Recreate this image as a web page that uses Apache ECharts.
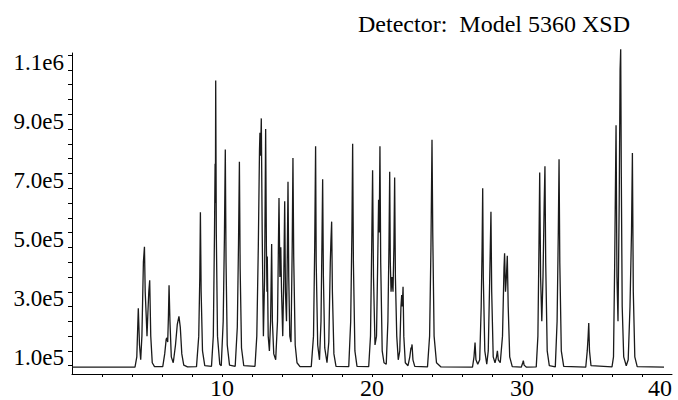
<!DOCTYPE html>
<html>
<head>
<meta charset="utf-8">
<script src="https://cdn.jsdelivr.net/npm/echarts@6/dist/echarts.min.js"></script>
<style>
html,body{margin:0;padding:0;background:#fff;}
#chart{width:678px;height:400px;}
</style>
</head>
<body>
<div id="chart"></div>
<script>
// Chart title text
const titleText = 'Detector:  Model 5360 XSD';

// Retention time (minutes)
const rt = [
  0, 4.20, 4.32, 4.42, 4.50, 4.58, 4.66, 4.76, 4.83, 4.88, 4.95, 5.00, 5.06, 5.12, 5.18, 5.25, 5.35, 5.50,
  6.05, 6.18, 6.28, 6.33, 6.38, 6.43, 6.47, 6.53, 6.62, 6.75, 6.90, 7.02, 7.13, 7.22, 7.32, 7.45, 7.70,
  8.30, 8.45, 8.52, 8.56, 8.61, 8.70, 8.85,
  9.30, 9.42, 9.50, 9.54, 9.56, 9.58, 9.62, 9.70, 9.85,
  9.95, 10.08, 10.16, 10.22, 10.27, 10.35, 10.50,
  10.88, 11.02, 11.10, 11.16, 11.21, 11.30, 11.45,
  12.20, 12.32, 12.42, 12.50, 12.53, 12.57, 12.62, 12.68, 12.76, 12.84, 12.91, 12.96, 13.00, 13.02, 13.08, 13.16, 13.24, 13.31, 13.36, 13.45,
  13.58, 13.70, 13.80, 13.86, 13.92, 13.97, 14.05, 14.12, 14.18, 14.23, 14.30, 14.36, 14.40, 14.45, 14.52, 14.60, 14.68, 14.73, 14.78, 14.88, 15.00, 15.20,
  15.95, 16.10, 16.18, 16.24, 16.28, 16.38, 16.50, 16.60, 16.66, 16.71, 16.76, 16.85, 17.00, 17.12, 17.22, 17.26, 17.31, 17.36, 17.46, 17.60,
  18.45, 18.58, 18.66, 18.71, 18.76, 18.86, 19.00,
  19.78, 19.90, 19.98, 20.04, 20.10, 20.20, 20.30, 20.38, 20.44, 20.48, 20.53, 20.58, 20.68, 20.80,
  20.95, 21.06, 21.13, 21.18, 21.22, 21.27, 21.33, 21.40, 21.46, 21.51, 21.56, 21.65, 21.75, 21.85, 21.93, 21.98, 22.02, 22.07, 22.12, 22.22, 22.40, 22.52, 22.60, 22.63, 22.67, 22.73, 22.85,
  23.70, 23.84, 23.93, 24.00, 24.05, 24.14, 24.30, 24.60,
  26.70, 26.80, 26.87, 26.93, 27.05,
  27.18, 27.28, 27.34, 27.38, 27.42, 27.52, 27.65, 27.75, 27.85, 27.93, 27.98, 28.08, 28.20, 28.30, 28.36, 28.42, 28.55, 28.70, 28.80, 28.84, 28.90, 28.96, 29.02, 29.08, 29.18, 29.35,
  29.95, 30.05, 30.09, 30.14, 30.30,
  30.95, 31.06, 31.13, 31.18, 31.24, 31.32, 31.40, 31.48, 31.53, 31.58, 31.68, 31.82,
  32.22, 32.34, 32.42, 32.47, 32.52, 32.62, 32.78,
  34.25, 34.35, 34.41, 34.45, 34.50, 34.60,
  36.00, 36.10, 36.18, 36.27, 36.33, 36.40, 36.48, 36.54, 36.58, 36.62, 36.68, 36.78, 36.95, 37.08, 37.20, 37.30, 37.36, 37.42, 37.52, 37.68, 39.47
];

// Detector signal read at those times
const signal = [
  45000, 45000, 80000, 244000, 120000, 70000, 150000, 400000, 452000, 300000, 215000, 150000, 230000, 300000, 339000, 150000, 60000, 47000,
  47000, 90000, 140000, 144000, 130000, 220000, 322000, 200000, 80000, 60000, 120000, 190000, 217000, 180000, 90000, 52000, 46000,
  47000, 150000, 350000, 569000, 300000, 100000, 50000,
  48000, 150000, 500000, 733000, 600000, 1014000, 500000, 150000, 55000,
  50000, 200000, 480000, 781000, 400000, 120000, 52000,
  48000, 180000, 460000, 739000, 380000, 110000, 50000,
  48000, 150000, 450000, 780000, 837000, 760000, 886000, 500000, 150000, 350000, 850000, 450000, 300000, 419000, 150000, 100000, 200000, 461000, 200000, 90000,
  70000, 200000, 617000, 350000, 450000, 300000, 150000, 350000, 606000, 300000, 200000, 450000, 672000, 350000, 150000, 130000, 450000, 752000, 420000, 120000, 60000, 47000,
  47000, 150000, 450000, 792000, 400000, 120000, 70000, 200000, 450000, 680000, 350000, 110000, 60000, 130000, 400000, 470000, 537000, 300000, 90000, 48000,
  47000, 200000, 500000, 800000, 400000, 100000, 48000,
  47000, 150000, 450000, 711000, 350000, 120000, 150000, 400000, 611000, 500000, 792000, 400000, 100000, 60000,
  55000, 200000, 450000, 706000, 400000, 300000, 350000, 300000, 450000, 686000, 350000, 150000, 70000, 100000, 250000, 289000, 250000, 317000, 150000, 60000, 50000, 80000, 111000, 105000, 122000, 70000, 48000,
  46000, 150000, 450000, 814000, 500000, 150000, 60000, 46000,
  45000, 80000, 128000, 70000, 55000,
  70000, 250000, 450000, 650000, 350000, 100000, 55000, 100000, 350000, 570000, 300000, 80000, 60000, 80000, 100000, 70000, 60000, 150000, 380000, 430000, 300000, 350000, 422000, 250000, 80000, 47000,
  45000, 60000, 67000, 52000, 45000,
  46000, 150000, 450000, 703000, 350000, 200000, 350000, 600000, 724000, 400000, 100000, 50000,
  46000, 200000, 500000, 748000, 400000, 100000, 48000,
  45000, 100000, 150000, 194000, 100000, 50000,
  46000, 80000, 400000, 863000, 350000, 200000, 600000, 1050000, 1120000, 700000, 250000, 80000, 50000, 70000, 250000, 500000, 769000, 300000, 80000, 47000, 45000
];

// Axis tick values and labels
const yLabelValues = [100000, 300000, 500000, 700000, 900000, 1100000];
const yLabelTexts = ['1.0e5', '3.0e5', '5.0e5', '7.0e5', '9.0e5', '1.1e6'];
const yTickValues = [50000, 100000, 150000, 200000, 250000, 300000, 350000, 400000, 450000, 500000, 550000, 600000, 650000, 700000, 750000, 800000, 850000, 900000, 950000, 1000000, 1050000, 1100000];
const xLabelValues = [10, 20, 30, 40];
const xLabelTexts = ['10', '20', '30', '40'];
const xTickValues = [2, 4, 6, 8, 10, 12, 14, 16, 18, 20, 22, 24, 26, 28, 30, 32, 34, 36, 38];

const points = rt.map((t, i) => [t, signal[i]]);

const chart = echarts.init(document.getElementById('chart'), null, {renderer: 'svg'});
const serif = '"Liberation Serif", "DejaVu Serif", serif';
chart.setOption({
  animation: false,
  backgroundColor: '#ffffff',
  grid: {left: 72, right: 6, top: 53, bottom: 22, containLabel: false},
  graphic: [{
    type: 'text',
    x: 494, y: 24,
    style: {text: titleText, font: '24px ' + serif, fill: '#000', align: 'center', verticalAlign: 'middle'}
  }],
  xAxis: {
    type: 'value', min: 0, max: 40,
    axisLine: {onZero: false, lineStyle: {color: '#000', width: 1}},
    axisTick: {show: true, length: 3, inside: false, customValues: xTickValues, lineStyle: {color: '#000'}},
    axisLabel: {
      customValues: xLabelValues,
      formatter: v => xLabelTexts[xLabelValues.indexOf(v)] ?? '',
      fontFamily: serif, fontSize: 24, color: '#000', margin: 2,
      alignMaxLabel: 'right'
    },
    splitLine: {show: false}
  },
  yAxis: {
    type: 'value', min: 22000, max: 1107000,
    axisLine: {show: true, onZero: false, lineStyle: {color: '#000', width: 1}},
    axisTick: {show: true, length: 4, inside: false, customValues: yTickValues, lineStyle: {color: '#000'}},
    axisLabel: {
      customValues: yLabelValues,
      formatter: v => yLabelTexts[yLabelValues.indexOf(v)] ?? '',
      fontFamily: serif, fontSize: 23, color: '#000', margin: 8,
      verticalAlign: 'top', lineHeight: 14
    },
    splitLine: {show: false}
  },
  series: [{
    type: 'line',
    data: points,
    showSymbol: false,
    clip: false,
    lineStyle: {color: '#1a1a1a', width: 1.3},
    z: 3
  }]
});
</script>
</body>
</html>
